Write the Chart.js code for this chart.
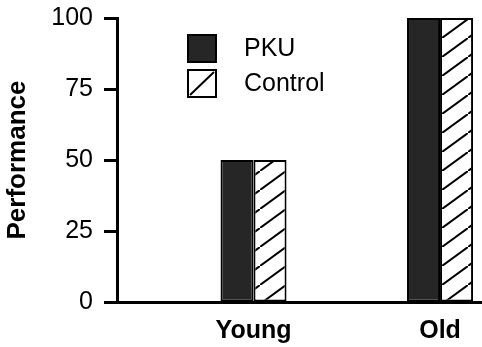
<!DOCTYPE html>
<html>
<head>
<meta charset="utf-8">
<script src="https://cdn.jsdelivr.net/npm/chart.js@4/dist/chart.umd.min.js"></script>
<style>
  body { margin: 0; background: #fff; }
  canvas { display: block; }
</style>
</head>
<body>
<canvas id="perf" width="482" height="347"></canvas>
<script>
// performance by age group
var groups = ["Young", "Old"];
var seriesNames = ["PKU", "Control"];
var pku = [50, 100];
var control = [50, 100];
var yTicks = [0, 25, 50, 75, 100];

var FONT = "'Liberation Sans', Arial, Helvetica, sans-serif";
var canvas = document.getElementById('perf');
var ctx = canvas.getContext('2d');

// "/" hatching for the control bars
function makeHatch() {
  var tile = document.createElement('canvas');
  tile.width = 26;
  tile.height = 19;
  var g = tile.getContext('2d');
  g.fillStyle = '#fff';
  g.fillRect(0, 0, 26, 19);
  g.strokeStyle = '#000';
  g.lineWidth = 2;
  g.beginPath();
  g.moveTo(-13, 28.5);
  g.lineTo(39, -9.5);
  g.stroke();
  return ctx.createPattern(tile, 'repeat');
}

// legend stacked in the upper middle of the plot
var legendBoxes = {
  id: 'legendBoxes',
  afterDraw: function (chart, args, opts) {
    var c = chart.ctx;
    chart.data.datasets.forEach(function (ds, i) {
      var x = opts.left, y = opts.top + i * opts.step;
      c.save();
      c.fillStyle = i === 0 ? ds.backgroundColor : '#fff';
      c.fillRect(x, y, opts.w, opts.h);
      c.strokeStyle = '#000';
      c.lineWidth = 2;
      if (i === 1) {
        c.beginPath();
        c.moveTo(x + 2, y + opts.h - 2);
        c.lineTo(x + opts.w - 2, y + 2);
        c.stroke();
      }
      c.strokeRect(x, y, opts.w, opts.h);
      c.fillStyle = '#000';
      c.font = '25px ' + FONT;
      c.textBaseline = 'middle';
      c.textAlign = 'left';
      c.fillText(ds.label, opts.textX, y + opts.h / 2 + 1);
      c.restore();
    });
  }
};

var chart = new Chart(ctx, {
  type: 'bar',
  data: {
    datasets: [{
      label: seriesNames[0],
      data: groups.map(function (g, i) { return { x: i + 1, y: pku[i] }; }),
      backgroundColor: '#262626',
      borderColor: '#000',
      borderWidth: 2,
      borderSkipped: false
    }, {
      label: seriesNames[1],
      data: groups.map(function (g, i) { return { x: i + 1, y: control[i] }; }),
      backgroundColor: makeHatch(),
      borderColor: '#000',
      borderWidth: 2,
      borderSkipped: false
    }]
  },
  plugins: [legendBoxes],
  options: {
    responsive: false,
    animation: false,
    devicePixelRatio: 1,
    layout: { padding: { top: 18, right: 0, left: 0, bottom: 0 } },
    datasets: {
      bar: { barPercentage: 1, categoryPercentage: 0.354 }
    },
    plugins: {
      legend: { display: false },
      tooltip: { enabled: false },
      legendBoxes: { left: 188, top: 35, step: 35, w: 28, h: 27, textX: 244 }
    },
    scales: {
      x: {
        type: 'linear',
        offset: false,
        min: 0.268,
        max: 2.225,
        grid: { display: false, drawTicks: false },
        border: { display: true, color: '#000', width: 3 },
        afterBuildTicks: function (scale) {
          scale.ticks = groups.map(function (g, i) { return { value: i + 1 }; });
        },
        afterFit: function (scale) { scale.height = 45; },
        ticks: {
          autoSkip: false,
          padding: 14,
          color: '#000',
          font: { family: FONT, size: 25, weight: 'bold' },
          callback: function (v, i) { return groups[i]; }
        }
      },
      y: {
        min: 0,
        max: 100,
        afterBuildTicks: function (scale) {
          scale.ticks = yTicks.map(function (v) { return { value: v }; });
        },
        afterFit: function (scale) {
          scale.width = 117;
          scale.paddingTop = 0;
          scale.paddingBottom = 0;
        },
        grid: {
          drawOnChartArea: false,
          drawTicks: true,
          tickLength: 13,
          tickColor: '#000',
          tickWidth: 3
        },
        border: { display: true, color: '#000', width: 3 },
        ticks: {
          padding: 11,
          color: '#000',
          font: { family: FONT, size: 25 }
        },
        title: {
          display: true,
          text: 'Performance',
          color: '#000',
          padding: { top: 2, bottom: 0 },
          font: { family: FONT, size: 26, weight: 'bold' }
        }
      }
    }
  }
});
</script>
</body>
</html>
